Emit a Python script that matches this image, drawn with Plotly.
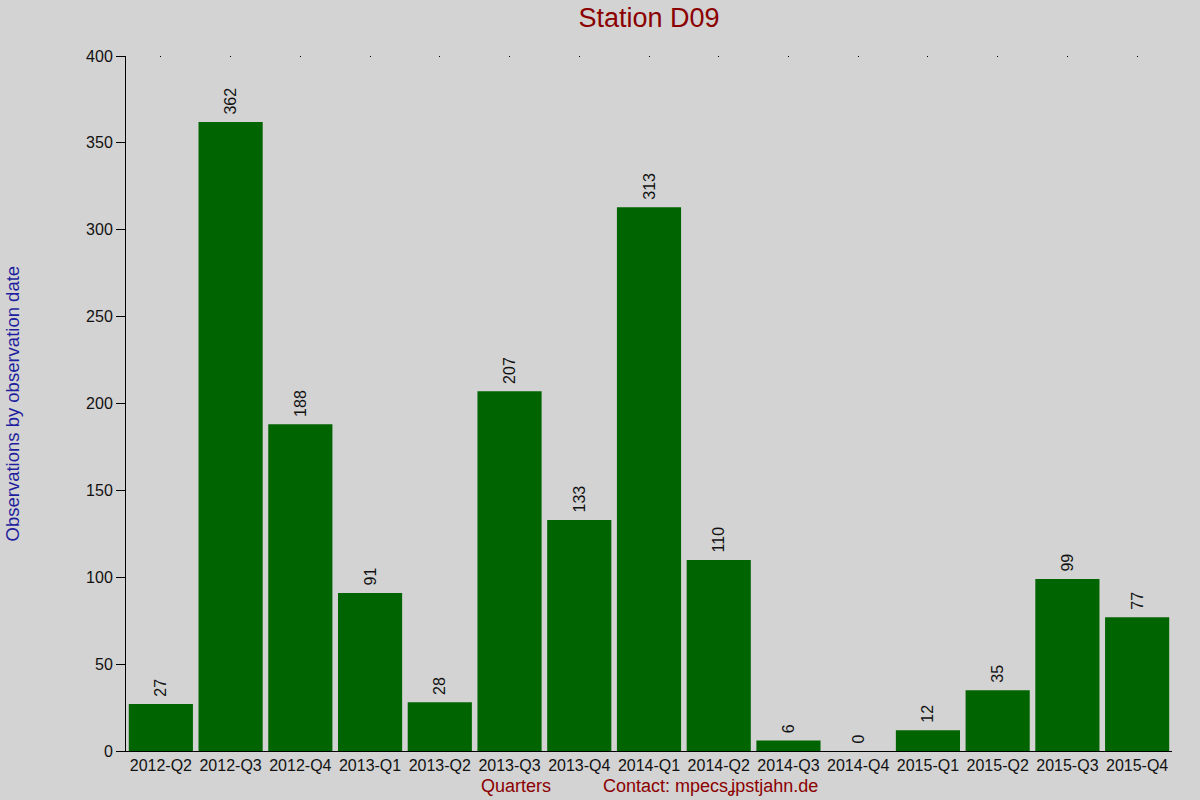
import plotly.graph_objects as go

# Datos: observaciones por trimestre, estación D09
quarters = ['2012-Q2', '2012-Q3', '2012-Q4', '2013-Q1', '2013-Q2', '2013-Q3', '2013-Q4',
            '2014-Q1', '2014-Q2', '2014-Q3', '2014-Q4', '2015-Q1', '2015-Q2', '2015-Q3', '2015-Q4']
observations = [27, 362, 188, 91, 28, 207, 133, 313, 110, 6, 0, 12, 35, 99, 77]

y_ticks = [0, 50, 100, 150, 200, 250, 300, 350, 400]

BG = '#D3D3D3'
FONT = 'Liberation Sans, Arial, sans-serif'

fig = go.Figure()

fig.add_trace(go.Bar(
    x=quarters,
    y=observations,
    marker=dict(color='#006400', line=dict(width=0)),
    # espacio duro delante para separar la etiqueta de la barra
    text=['\u00a0' + str(v) for v in observations],
    textposition='outside',
    textangle=-90,
    textfont=dict(family=FONT, size=16, color='#111111'),
    cliponaxis=False,
    showlegend=False,
))

# eje superior con marcas pequeñas
fig.add_trace(go.Scatter(x=quarters, y=[None] * len(quarters), xaxis='x2',
                         mode='markers', showlegend=False, hoverinfo='skip'))

fig.update_layout(
    width=1200,
    height=800,
    paper_bgcolor=BG,
    plot_bgcolor=BG,
    margin=dict(l=126, r=28, t=56, b=49),
    bargap=0.08,
    font=dict(family=FONT, size=16, color='#111111'),
    title=dict(text='Station D09', x=(126 + 1172) / 2 / 1200, xanchor='center',
               y=1 - 18 / 800, yanchor='middle',
               font=dict(family=FONT, size=27, color='#8B0000')),
    xaxis=dict(
        type='category',
        range=[-0.5, len(quarters) - 0.5],
        showline=True, linecolor='#000000', linewidth=1,
        ticks='', showgrid=False, zeroline=False,
        tickfont=dict(size=16, color='#111111'),
    ),
    xaxis2=dict(
        type='category', overlaying='x', side='top', matches='x',
        showline=False, showgrid=False, showticklabels=False,
        ticks='inside', ticklen=1, tickcolor='#000000',
    ),
    yaxis=dict(
        range=[0, 400],
        tickvals=y_ticks,
        showline=True, linecolor='#000000', linewidth=1,
        ticks='outside', ticklen=9, tickcolor='#000000',
        showgrid=False, zeroline=False,
        tickfont=dict(size=16, color='#111111'),
    ),
)

fig.add_annotation(text='Observations by observation date', xref='paper', yref='paper',
                   x=0, y=0.5, xshift=-114, xanchor='center', yanchor='middle',
                   textangle=-90, showarrow=False,
                   font=dict(family=FONT, size=18.5, color='#1E1E9E'))
fig.add_annotation(text='Quarters', xref='paper', yref='paper',
                   x=(516 - 126) / 1046, y=0, yshift=-35, xanchor='center', yanchor='middle',
                   showarrow=False,
                   font=dict(family=FONT, size=18, color='#8B0000'))
fig.add_annotation(text='Contact: mpecsʝpstjahn.de', xref='paper', yref='paper',
                   x=(710 - 126) / 1046, y=0, yshift=-35, xanchor='center', yanchor='middle',
                   showarrow=False,
                   font=dict(family=FONT, size=18, color='#8B0000'))

fig.write_html("out.html", config={'displayModeBar': False},
               post_script="document.body.style.margin='0';")
